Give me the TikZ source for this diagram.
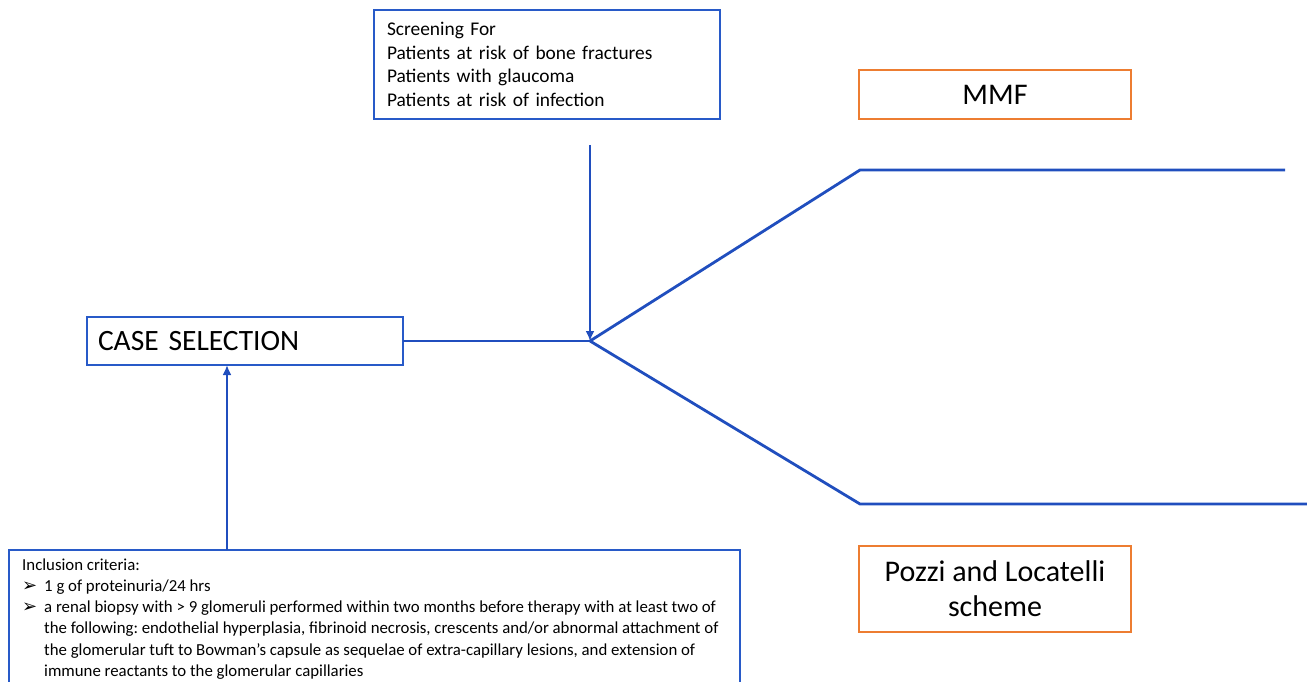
\documentclass[tikz,border=0pt]{standalone}
\usepackage{fontspec}
\setmainfont{Carlito}
\newfontfamily\dejavu{DejaVu Sans}
\usetikzlibrary{arrows.meta}
\definecolor{lineblue}{RGB}{32,78,190}
\definecolor{boxblue}{RGB}{40,90,200}
\definecolor{boxorange}{RGB}{237,125,49}
\tikzset{
  bluebox/.style={draw=boxblue, line width=1.6pt, fill=white, inner sep=0pt, outer sep=0pt},
  orangebox/.style={draw=boxorange, line width=1.6pt, fill=white, inner sep=0pt, outer sep=0pt, align=center},
  conn/.style={draw=lineblue, line width=2.8pt},
  arr/.style={conn, -{Latex[length=10pt,width=9pt]}}
}
\newcommand{\bulletmark}{\makebox[22pt][l]{\dejavu\fontsize{18pt}{18pt}\selectfont ➢}}
\frenchspacing
\begin{document}
\begin{tikzpicture}[x=1pt,y=-1pt]
\useasboundingbox (0,0) rectangle (1307,682);
\clip (0,0) rectangle (1307,682);
% screening box
\node[bluebox, anchor=north west, minimum width=346pt, minimum height=109pt, text width=320pt, align=left, font=\fontsize{19.4pt}{23.5pt}\selectfont\frenchspacing] (scr) at (374,10)
  {Screening For\\Patients at risk of bone fractures\\Patients with glaucoma\\Patients at risk of infection};
% case selection
\node[bluebox, anchor=north west, minimum width=316pt, minimum height=48pt, text width=294pt, align=left, font=\fontsize{29.5pt}{30pt}\selectfont] (case) at (87,317)
  {CASE SELECTION};
% MMF
\node[orangebox, anchor=north west, minimum width=272pt, minimum height=49pt, font=\fontsize{30pt}{32pt}\selectfont] (mmf) at (859,70) {MMF};
% Pozzi
\node[orangebox, anchor=north west, minimum width=272pt, minimum height=86pt, font=\fontsize{30pt}{35pt}\selectfont] (pozzi) at (859,546) {Pozzi and Locatelli\\scheme};
% inclusion box
\node[bluebox, anchor=north west, minimum width=731pt, minimum height=150pt] (incl) at (9,550) {};
\node[anchor=north west, inner sep=0pt, align=left, font=\fontsize{16.8pt}{21.2pt}\selectfont\frenchspacing] (incltext) at (22,558.5)
  {Inclusion criteria:\\
   \bulletmark 1 g of proteinuria/24 hrs\\
   \bulletmark a renal biopsy with > 9 glomeruli performed within two months before therapy with at least two of\\
   \hspace*{22pt}the following: endothelial hyperplasia, fibrinoid necrosis, crescents and/or abnormal attachment of\\
   \hspace*{22pt}the glomerular tuft to Bowman’s capsule as sequelae of extra-capillary lesions, and extension of\\
   \hspace*{22pt}immune reactants to the glomerular capillaries};
% junction and branch points
\coordinate (j) at (590,341);
\coordinate (up) at (860,170);
\coordinate (upend) at (1285,170);
\coordinate (lo) at (860,504);
\coordinate (loend) at (1307,504);
\coordinate (scrstart) at (590,145);
\draw[conn] (case.east) -- (j);
\draw[conn, line join=round] (j) -- (up) -- (upend);
\draw[conn, line join=round] (j) -- (lo) -- (loend);
\draw[arr] (scrstart) -- (j);
\draw[arr] (incl.north -| 227,0) -- (case.south -| 227,0);
\end{tikzpicture}
\end{document}
